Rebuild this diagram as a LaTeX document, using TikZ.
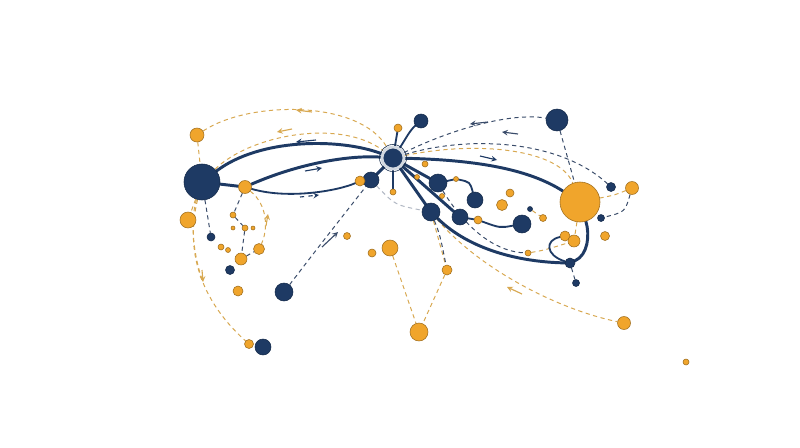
\documentclass[tikz,border=0pt]{standalone}
\usepackage{tikz}
\usetikzlibrary{arrows,backgrounds}
\definecolor{navyc}{HTML}{1E3A64}
\definecolor{navyd}{HTML}{142A4A}
\definecolor{goldc}{HTML}{F0A52C}
\definecolor{goldd}{HTML}{A06E1E}
\definecolor{goldl}{HTML}{D8A850}
\definecolor{navyl}{HTML}{3A4C6A}

\begin{document}
\begin{tikzpicture}[x=0.025cm,y=-0.025cm,
	navyball/.style={circle,inner sep=0pt,fill=navyc,draw=navyd,line width=0.4pt,minimum size=#1*0.05cm},
	goldball/.style={circle,inner sep=0pt,fill=goldc,draw=goldd,line width=0.4pt,minimum size=#1*0.05cm},
	thickline/.style={draw=navyc,line width=2.1pt,line cap=round},
	thinline/.style={draw=navyc,line width=1.3pt,line cap=round},
	golddash/.style={draw=goldl,line width=0.7pt,dash pattern=on 3pt off 2.5pt},
	navydash/.style={draw=navyl,line width=0.7pt,dash pattern=on 3pt off 2.5pt},
	tinyarrow/.style={draw=navyc,line width=0.8pt,-stealth}]
	\useasboundingbox (0,0) rectangle (800,447);
	% navy nodes
	\foreach \n/\x/\y/\r in {L/202/182/18, nA/421/121/7, nB/557/120/11, nC/371/180/8,
		nD/438/183/9, nE/475/200/8, nF/431/212/9, nG/460/217/8, nH/522/224/9,
		nI/284/292/9, nJ/263/347/8, nK/570/263/5, nM/576/283/3.5, nN/611/187/4.5,
		nP/601/218/3.5, nQ/211/237/4, nR/230/270/4.5, nS/530/209/2.5}
		\node[navyball=\r] (\n) at (\x,\y) {};
	% gold nodes
	\foreach \n/\x/\y/\r in {big/580/202/20, oA/197/135/7, oB/245/187/6.5, oC/188/220/8,
		oD/233/215/3, oE/233/228/2, oF/245/228/3, oG/253/228/2, oH/221/247/3,
		oI/228/250/2.5, oJ/241/259/6, oK/259/249/5.5, oL/238/291/5, oM/249/344/4.5,
		oN/398/128/4, oO/393/192/3, oP/360/181/5, oQ/425/164/3, oR/417/177/2.5,
		oS/442/196/2.5, oT/456/179/2.5, oU/510/193/4, oV/502/205/5.5, oW/543/218/3.5,
		oX/478/220/4, oY/528/253/3, oZ/565/236/5, pA/574/241/6, pB/605/236/4.5,
		pC/632/188/6.5, pD/390/248/8, pE/372/253/4, pF/347/236/3.5, pG/447/270/5,
		pH/419/332/9, pI/624/323/6.5, pJ/686/362/3}
		\node[goldball=\r] (\n) at (\x,\y) {};
	\node[navyball=11,draw=navyc!20!white,line width=2pt] (hub) at (393,158) {};
	\draw[navyd,line width=0.4pt] (hub) circle (13.5);

	\begin{scope}[on background layer]
	\fill[white] (0,0) rectangle (800,447);
	\end{scope}
	\begin{scope}[on background layer]
	% dashed links
	\draw[golddash] (oA) .. controls (250,100) and (360,100) .. (hub);
	\draw[golddash] (L) .. controls (250,135) and (340,118) .. (hub);
	\draw[golddash] (oA) -- (L);
	\draw[golddash] (L) -- (oC);
	\draw[golddash] (L) .. controls (185,250) and (200,300) .. (oM);
	\coordinate (lend) at (203,282);
	\draw[golddash] (L) .. controls (190,220) and (193,255) .. (lend);
	\draw[golddash] (oB) .. controls (268,205) and (268,230) .. (oK);
	\draw[golddash] (hub) .. controls (480,140) and (560,150) .. (big);
	\draw[golddash] (pC) .. controls (615,195) .. (big);
	\draw[golddash] (nF) -- (pG);
	\draw[golddash] (pG) -- (pH);
	\draw[golddash] (pD) -- (pH);
	\draw[golddash] (nF) .. controls (480,270) and (560,310) .. (pI);
	\draw[golddash] (oY) .. controls (545,250) .. (pA);
	\draw[golddash] (big) -- (pA);
	\draw[golddash] (nS) -- (oW);
	\draw[navydash] (hub) .. controls (450,130) and (510,112) .. (nB);
	\draw[navydash] (hub) .. controls (470,135) and (560,140) .. (nN);
	\draw[navydash] (nB) -- (big);
	\draw[navydash] (pC) .. controls (625,212) .. (nP);
	\draw[navydash] (nK) -- (nM);
	\draw[navydash] (nI) .. controls (320,245) .. (nC);
	\draw[navydash] (L) -- (nQ);
	\draw[navydash] (oB) -- (oD) -- (oF) -- (oJ) -- (oK);
	\draw[navydash] (nF) .. controls (440,235) .. (pG);
	\draw[navydash] (nD) .. controls (470,235) and (500,252) .. (oY);
	\draw[navydash,draw=navyl!40] (nC) .. controls (395,205) .. (nF);
	% thick links
	\draw[thickline] (L) .. controls (260,138) and (340,138) .. (hub);
	\draw[thickline] (oB) .. controls (300,163) and (350,155) .. (hub);
	\draw[thickline] (L) -- (oB);
	\draw[thinline] (oB) .. controls (290,200) and (340,190) .. (oP);
	\draw[thickline] (nC) -- (hub);
	\draw[thinline] (hub) .. controls (405,140) and (410,130) .. (nA);
	\draw[thinline] (hub) -- (oN);
	\draw[thinline] (hub) -- (oO);
	\draw[thickline] (hub) .. controls (480,160) and (530,170) .. (big);
	\draw[thickline] (hub) -- (nD);
	\draw[thinline] (nD) -- (oT) .. controls (470,182) .. (nE);
	\draw[thickline] (hub) -- (nG);
	\draw[thinline] (nG) -- (oX) .. controls (500,228) .. (nH);
	\draw[thickline] (hub) -- (nF);
	\draw[thickline] (nF) .. controls (470,250) and (520,262) .. (nK);
	\draw[thickline] (big) .. controls (590,235) and (588,255) .. (nK);
	\draw[thinline] (nK) .. controls (545,255) and (545,240) .. (oZ);
	\end{scope}

	% small direction marks
	\draw[tinyarrow] (316,140) -- (296,142);
	\draw[tinyarrow] (305,171) -- (322,168);
	\draw[tinyarrow,dashed] (300,197) -- (319,195);
	\draw[tinyarrow] (480,156) -- (497,160);
	\draw[tinyarrow,draw=navyl] (488,122) -- (470,124);
	\draw[tinyarrow,draw=navyl] (518,134) -- (502,132);
	\draw[tinyarrow,draw=navyl] (322,247) -- (338,232);
	\draw[tinyarrow,draw=goldl] (312,112) -- (296,110);
	\draw[tinyarrow,draw=goldl] (292,129) -- (277,132);
	\draw[tinyarrow,draw=goldl] (266,226) -- (268,214);
	\draw[tinyarrow,draw=goldl] (202,270) -- (203,282);
	\draw[tinyarrow,draw=goldl] (522,294) -- (507,287);
\end{tikzpicture}
\end{document}
